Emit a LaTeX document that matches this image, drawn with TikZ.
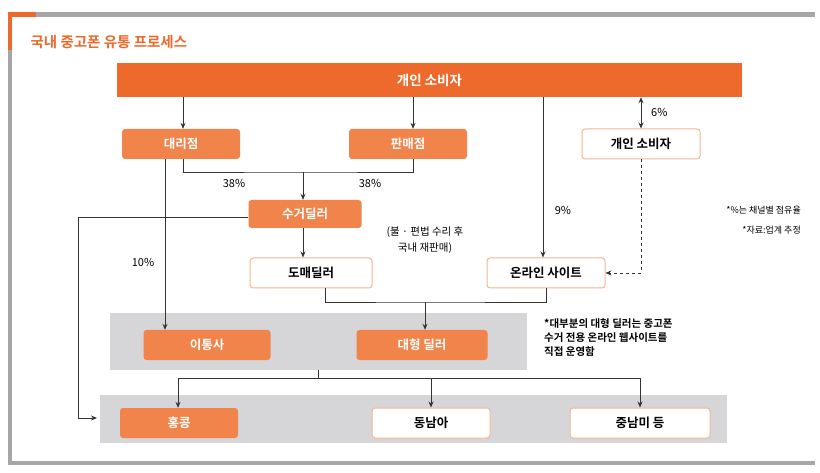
\documentclass[tikz,border=0pt]{standalone}
\usepackage{fontspec}
\setmainfont{Noto Sans CJK KR}[BoldFont={* Bold}]
\begin{document}
\begin{tikzpicture}[x=1pt,y=-1pt,
  ob/.style={fill=boxor,rounded corners=3pt,text=white,font=\bfseries\fontsize{12.5}{13}\selectfont,minimum width=118pt,minimum height=30pt,inner sep=0pt},
  wb/.style={fill=white,draw=boxor!60,line width=1pt,rounded corners=3pt,font=\bfseries\fontsize{12.5}{13}\selectfont,minimum width=118pt,minimum height=30pt,inner sep=0pt},
  ln/.style={line width=0.9pt,black!80},
  ar/.style={ln,-{Stealth[length=6pt,width=5pt]}},
  lb/.style={font=\fontsize{11}{12}\selectfont,inner sep=1pt}]
\usetikzlibrary{arrows.meta}
\definecolor{baror}{HTML}{EE6A2C}
\definecolor{boxor}{HTML}{F0844A}
\definecolor{band}{HTML}{D6D6D8}
\useasboundingbox (0,0) rectangle (820,473);
\fill[white] (0,0) rectangle (820,473);
% frame
\fill[black!35] (8,12) rectangle (815,17);
\fill[black!35] (8,12) rectangle (12,465);
\fill[black!35] (8,461) rectangle (815,465);
\fill[baror] (8,12) rectangle (36,17);
\fill[baror] (8,12) rectangle (12,50);
\node[text=baror,font=\bfseries\fontsize{14.5}{15}\selectfont,anchor=west] (title) at (27,42) {국내 중고폰 유통 프로세스};
% bands
\fill[band] (110,313) rectangle (527,370);
\fill[band] (100,395) rectangle (727,443);
% top bar
\node[fill=baror,text=white,font=\bfseries\fontsize{13.5}{14}\selectfont,minimum width=625pt,minimum height=34pt,inner sep=0pt] (top) at (429.5,80) {개인 소비자};
\node[ob] (dae) at (181,144) {대리점};
\node[ob] (pan) at (408,144) {판매점};
\node[wb] (pc) at (641,144) {개인 소비자};
\node[ob,minimum width=113pt,minimum height=28pt] (su) at (305,214) {수거딜러};
\node[wb,minimum width=122pt] (do) at (311,273) {도매딜러};
\node[wb] (on) at (546,273) {온라인 사이트};
\node[ob,minimum width=127pt] (it) at (207,345) {이통사};
\node[ob,minimum width=131pt] (dh) at (422,345) {대형 딜러};
\node[ob] (hk) at (179,423) {홍콩};
\node[wb] (sea) at (431,423) {동남아};
\node[wb,minimum width=140pt] (la) at (640,423) {중남미 등};
% arrows
\draw[ar] (top.south -| 183,0) -- (dae.north -| 183,0);
\draw[ar] (top.south -| 413,0) -- (pan.north -| 413,0);
\draw[ln,{Stealth[length=6pt,width=5pt]}-{Stealth[length=6pt,width=5pt]}] (top.south -| pc) -- (pc.north);
\node[lb,anchor=west] (p6) at (650,112) {6\%};
\draw[ar] (top.south -| 543,0) -- (on.north -| 543,0);
\node[lb] (p9) at (563,210) {9\%};
\draw[ar] (dae.south -| 165,0) -- (it.north -| 165,0);
\node[lb] (p10) at (143,262) {10\%};
\coordinate (j1) at (303,172);
\draw[ln] (dae.south -| 183,0) |- (j1) -| (pan.south -| 413,0);
\draw[ar] (j1) -- (su.north -| j1);
\node[lb] (p38a) at (234,183) {38\%};
\node[lb] (p38b) at (370,183) {38\%};
\coordinate (c1) at (78,217);
\coordinate (c2) at (97,418);
\draw[ar] (su.west |- c1) -- (c1) |- (c2);
\draw[ar] (su.south -| 303,0) -- (do.north -| 303,0);
\node[lb,align=center,font=\fontsize{10.5}{16}\selectfont] (note1) at (425,240) {(불 · 편법 수리 후\\국내 재판매)};
\coordinate (d1) at (641,273);
\draw[ln,dashed,-{Stealth[length=6pt,width=5pt]}] (pc.south) -- (d1) -- (on.east);
\coordinate (j2) at (425,302);
\draw[ln] (do.south -| 325,0) |- (j2) -| (on.south);
\draw[ar] (j2) -- (dh.north -| j2);
\node[lb,align=left,anchor=north west,font=\bfseries\fontsize{10.5}{14}\selectfont] (note2) at (543,317) {*대부분의 대형 딜러는 중고폰\\수거 전용 온라인 웹사이트를\\직접 운영함};
\node[lb,anchor=east,font=\fontsize{9}{10}\selectfont] (n3) at (802,210) {*\%는 채널별 점유율};
\node[lb,anchor=east,font=\fontsize{9}{10}\selectfont] (n4) at (802,230) {*자료:업계 추정};
\coordinate (j3) at (318,378);
\draw[ln] (318,370) -- (j3);
\draw[ln] (178,378) -- (640,378);
\draw[ar] (178,378) -- (hk.north -| 178,0);
\draw[ar] (431,378) -- (sea.north);
\draw[ar] (640,378) -- (la.north);
\end{tikzpicture}
\end{document}
